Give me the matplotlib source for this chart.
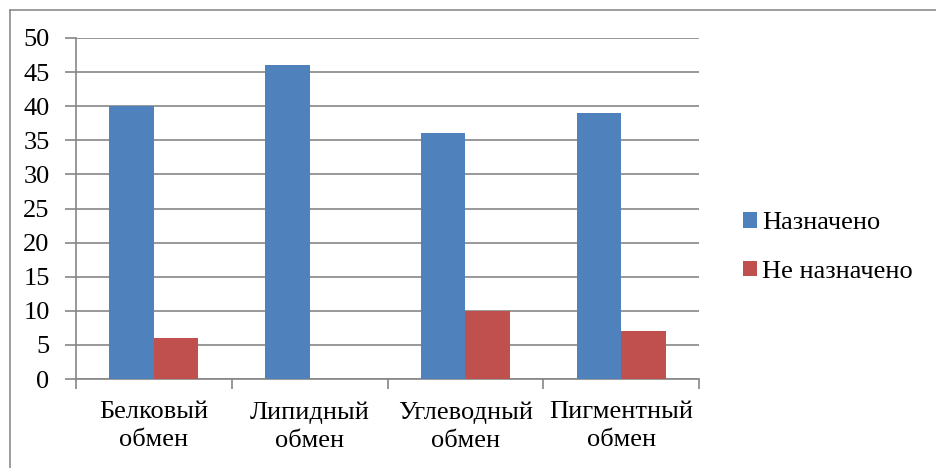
import matplotlib.pyplot as plt
import numpy as np
from matplotlib.lines import Line2D

plt.rcParams['font.family'] = 'serif'
plt.rcParams['font.serif'] = ['Liberation Serif', 'DejaVu Serif']

categories = ['Белковый\nобмен', 'Липидный\nобмен', 'Углеводный\nобмен', 'Пигментный\nобмен']
assigned = [40, 46, 36, 39]
not_assigned = [6, 0, 10, 7]
series_names = ['Назначено', 'Не назначено']

FS = 19
GRID = '#868686'

fig = plt.figure(figsize=(9.36, 4.68), dpi=100)
ax = fig.add_axes([76 / 936, 1 - 379 / 468, 623 / 936, 341 / 468])

# chart frame: only its top and left edges fall inside the canvas
top = 1 - 9.5 / 468
left = 9.5 / 936
fig.add_artist(Line2D([left, 1.0], [top, top], transform=fig.transFigure,
                      color='#8c8c8c', linewidth=1.2))
fig.add_artist(Line2D([left, left], [0.0, top], transform=fig.transFigure,
                      color='#8c8c8c', linewidth=1.2))

x = np.arange(len(categories))
w = 0.285
ax.bar(x - w / 2, assigned, w, color='#4F81BD', label=series_names[0], zorder=3)
ax.bar(x + w / 2, not_assigned, w, color='#C0504D', label=series_names[1], zorder=3)

ax.set_xlim(-0.5, len(categories) - 0.5)
ax.set_ylim(0, 50)
ax.set_yticks(range(0, 51, 5))
ax.yaxis.grid(True, color=GRID, linewidth=1.2, zorder=0)

ax.set_xticks(np.arange(-0.5, len(categories)), minor=False)
ax.set_xticklabels([])
ax.set_xticks(x, minor=True)
ax.set_xticklabels(categories, minor=True, fontsize=FS, linespacing=1.35)
ax.tick_params(axis='x', which='major', length=7, color=GRID, width=1.2)
ax.tick_params(axis='x', which='minor', length=0, pad=16)
ax.tick_params(axis='y', length=8, color=GRID, width=1.2, labelsize=FS, pad=11)

for side in ['top', 'right']:
    ax.spines[side].set_visible(False)
for side in ['left', 'bottom']:
    ax.spines[side].set_color(GRID)
    ax.spines[side].set_linewidth(1.2)

ax.legend(loc='center left', bbox_to_anchor=(1.032, 0.386), frameon=False,
          fontsize=FS, handlelength=0.55, handleheight=0.55,
          handletextpad=0.2, labelspacing=1.0)

fig.savefig('out.png', dpi=100)
